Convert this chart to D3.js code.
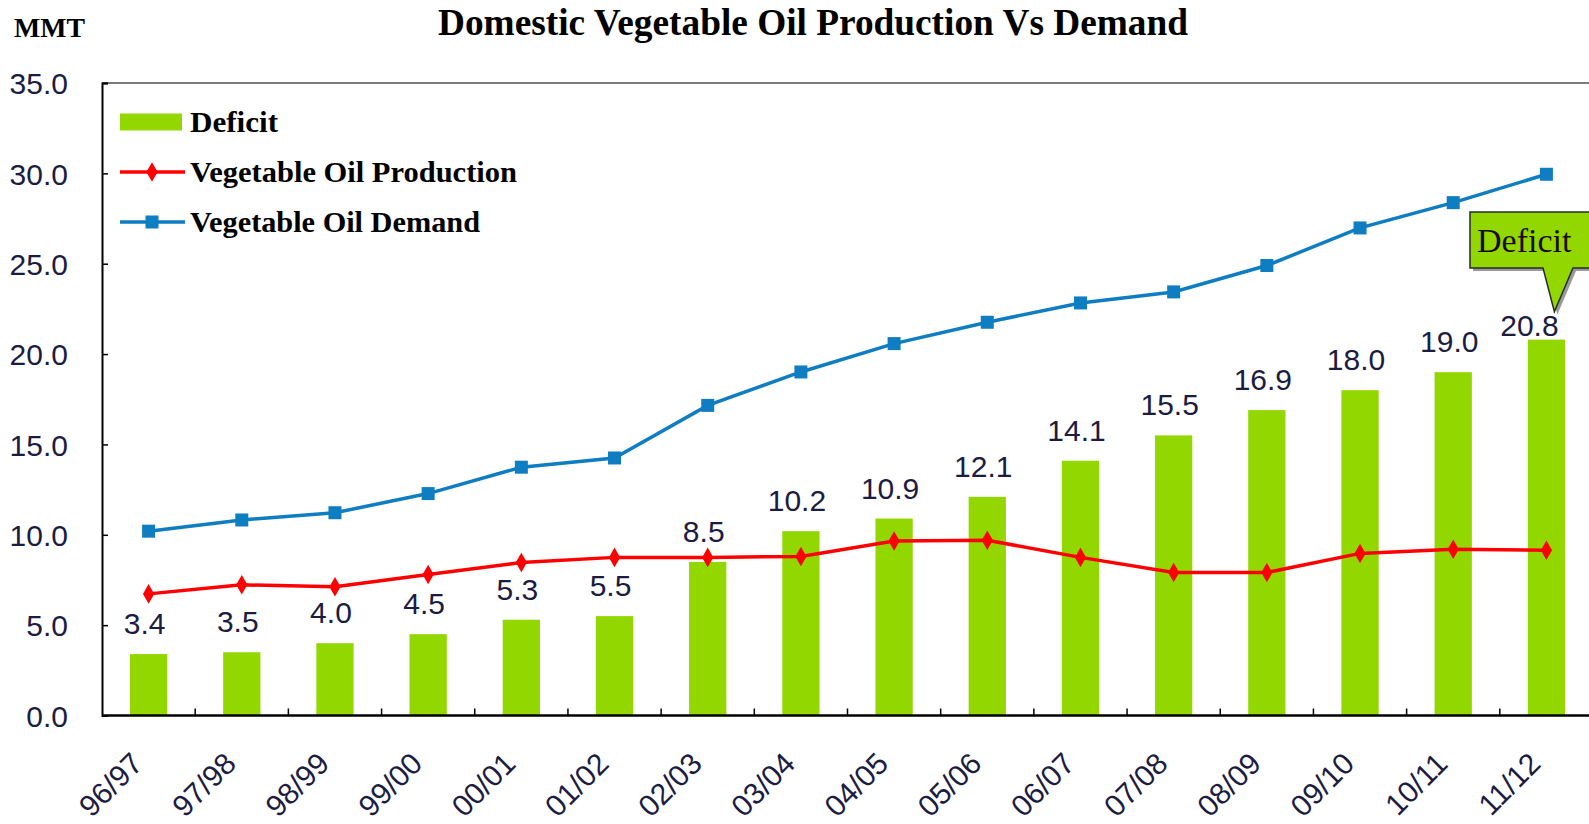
<!DOCTYPE html>
<html>
<head>
<meta charset="utf-8">
<script src="https://cdn.jsdelivr.net/npm/d3@7"></script>
<style>
  html, body { margin: 0; padding: 0; background: #fff; }
  svg { display: block; }
</style>
</head>
<body>
<svg id="chart" width="1589" height="824"></svg>
<script>
const categories = ["96/97","97/98","98/99","99/00","00/01","01/02","02/03","03/04","04/05","05/06","06/07","07/08","08/09","09/10","10/11","11/12"];
const deficit    = [3.4, 3.5, 4.0, 4.5, 5.3, 5.5, 8.5, 10.2, 10.9, 12.1, 14.1, 15.5, 16.9, 18.0, 19.0, 20.8];
const production = [6.73, 7.23, 7.12, 7.80, 8.47, 8.75, 8.75, 8.80, 9.65, 9.70, 8.75, 7.91, 7.91, 8.97, 9.20, 9.14];
const demand     = [10.20, 10.82, 11.22, 12.28, 13.74, 14.25, 17.16, 19.01, 20.58, 21.76, 22.83, 23.44, 24.90, 26.98, 28.38, 29.95];
const yTicks     = [0, 5, 10, 15, 20, 25, 30, 35];
const seriesNames = ["Deficit", "Vegetable Oil Production", "Vegetable Oil Demand"];
const titleText = "Domestic Vegetable Oil Production Vs Demand";
const unitText = "MMT";
const calloutText = "Deficit";

const W = 1589, H = 824;
const M = { left: 102, top: 83, bottom: 715.5, right: 1593 };
const GREEN = "#92d800", RED = "#ff0000", BLUE = "#0f7dc2";
const LABEL = "#1c1c42";
const sans = "'Liberation Sans', Arial, sans-serif";
const serif = "'Liberation Serif', 'Times New Roman', serif";

const svg = d3.select("#chart");
svg.append("rect").attr("width", W).attr("height", H).attr("fill", "#fff");

const x = d3.scaleBand().domain(categories).range([M.left, M.right]).paddingInner(0.6).paddingOuter(0.3);
const xc = d => x(d) + x.bandwidth() / 2;
const y = d3.scaleLinear().domain([0, 35]).range([M.bottom, M.top]);

// top border
svg.append("line").attr("x1", M.left).attr("x2", W).attr("y1", M.top).attr("y2", M.top)
  .attr("stroke", "#7a7a7a").attr("stroke-width", 2);

// bars
svg.append("g").selectAll("rect").data(categories).join("rect")
  .attr("x", d => x(d)).attr("width", x.bandwidth())
  .attr("y", (d, i) => y(deficit[i])).attr("height", (d, i) => y(0) - y(deficit[i]))
  .attr("fill", GREEN);

// y axis
const yAxis = d3.axisLeft(y).tickValues(yTicks).tickFormat(d3.format(".1f")).tickSize(-6).tickPadding(34);
const gy = svg.append("g").attr("transform", `translate(${M.left},0)`).call(yAxis);
gy.select(".domain").attr("stroke", "#000").attr("stroke-width", 2);
gy.selectAll(".tick line").attr("stroke", "#000").attr("stroke-width", 1.5);
gy.selectAll(".tick text").attr("font-family", sans)
  .attr("font-size", 30).attr("fill", LABEL).attr("dy", "0.36em");

// x axis
const step = x.step();
const boundaries = d3.range(categories.length + 1).map(i => M.left + i * step);
const gx = svg.append("g");
gx.append("line").attr("x1", M.left).attr("x2", W).attr("y1", M.bottom).attr("y2", M.bottom)
  .attr("stroke", "#000").attr("stroke-width", 2.5);
gx.selectAll("line.t").data(boundaries.slice(1)).join("line").attr("class", "t")
  .attr("x1", d => d).attr("x2", d => d).attr("y1", M.bottom).attr("y2", M.bottom - 7)
  .attr("stroke", "#000").attr("stroke-width", 1.5);
gx.selectAll("text").data(categories).join("text")
  .attr("transform", d => `translate(${xc(d) - 4},${M.bottom + 50}) rotate(-45)`)
  .attr("text-anchor", "end")
  .attr("font-family", sans).attr("font-size", 30)
  .attr("fill", LABEL).text(d => d);

// lines
const line = d3.line().x((d, i) => xc(categories[i])).y(d => y(d));
svg.append("path").datum(production).attr("d", line).attr("fill", "none").attr("stroke", RED).attr("stroke-width", 3.5);
svg.append("path").datum(demand).attr("d", line).attr("fill", "none").attr("stroke", BLUE).attr("stroke-width", 3.5);

const diamond = d3.symbol().type(d3.symbolDiamond).size(110);
svg.append("g").selectAll("path").data(production).join("path")
  .attr("d", diamond).attr("transform", (d, i) => `translate(${xc(categories[i])},${y(d)})`).attr("fill", RED);
svg.append("g").selectAll("rect").data(demand).join("rect")
  .attr("x", (d, i) => xc(categories[i]) - 6.5).attr("y", d => y(d) - 6.5)
  .attr("width", 13).attr("height", 13).attr("fill", BLUE);

// data labels (the last one is pulled down against its bar, under the callout)
const lastIdx = deficit.length - 1;
svg.append("g").selectAll("text").data(deficit).join("text")
  .attr("x", (d, i) => xc(categories[i]) - (i === lastIdx ? 17 : 4))
  .attr("y", (d, i) => y(d) - (i === lastIdx ? 4 : 20))
  .attr("text-anchor", "middle")
  .attr("font-family", sans).attr("font-size", 30)
  .attr("fill", LABEL).text(d => d3.format(".1f")(d));

// title & unit
svg.append("text").attr("x", 813).attr("y", 35).attr("text-anchor", "middle")
  .attr("font-family", serif).attr("font-weight", "bold")
  .attr("font-size", 37).attr("textLength", 750).attr("lengthAdjust", "spacingAndGlyphs")
  .attr("fill", "#000").text(titleText);
svg.append("text").attr("x", 14).attr("y", 37)
  .attr("font-family", serif).attr("font-weight", "bold")
  .attr("font-size", 28).attr("textLength", 71).attr("lengthAdjust", "spacingAndGlyphs")
  .attr("fill", "#000").text(unitText);

// legend
const lg = svg.append("g");
lg.append("rect").attr("x", 120).attr("y", 113.5).attr("width", 62).attr("height", 17).attr("fill", GREEN);
const legY = [122, 172, 222];
const legLens = [88, 327, 290];
lg.append("line").attr("x1", 120).attr("x2", 185).attr("y1", legY[1]).attr("y2", legY[1]).attr("stroke", RED).attr("stroke-width", 3.5);
lg.append("path").attr("d", diamond).attr("transform", `translate(152,${legY[1]})`).attr("fill", RED);
lg.append("line").attr("x1", 120).attr("x2", 185).attr("y1", legY[2]).attr("y2", legY[2]).attr("stroke", BLUE).attr("stroke-width", 3.5);
lg.append("rect").attr("x", 145.5).attr("y", legY[2] - 6.5).attr("width", 13).attr("height", 13).attr("fill", BLUE);
lg.selectAll("text").data(seriesNames).join("text")
  .attr("x", 190).attr("y", (d, i) => legY[i] + 10)
  .attr("font-family", serif).attr("font-weight", "bold").attr("font-size", 30)
  .attr("textLength", (d, i) => legLens[i]).attr("lengthAdjust", "spacingAndGlyphs")
  .attr("fill", "#000").text(d => d);

// callout pointing at the last deficit label
const last = categories[lastIdx];
const tipX = xc(last) + 8, tipY = y(deficit[lastIdx]) - 28;
const cg = svg.append("g");
const bx = 1470, by = 212, bw = 140, bh = 56;
const calloutPath = `M${bx},${by} H${bx + bw} V${by + bh} H${bx + 103} L${tipX},${tipY} L${bx + 73},${by + bh} H${bx} Z`;
cg.append("path").attr("d", calloutPath).attr("transform", "translate(3,3)").attr("fill", "#9a9a9a");
cg.append("path").attr("d", calloutPath).attr("fill", GREEN).attr("stroke", "#2a2a2a").attr("stroke-width", 1.5);
cg.append("text").attr("x", bx + 7).attr("y", by + 40)
  .attr("font-family", serif).attr("font-size", 34).attr("fill", "#1a0a00").text(calloutText);
</script>
</body>
</html>
